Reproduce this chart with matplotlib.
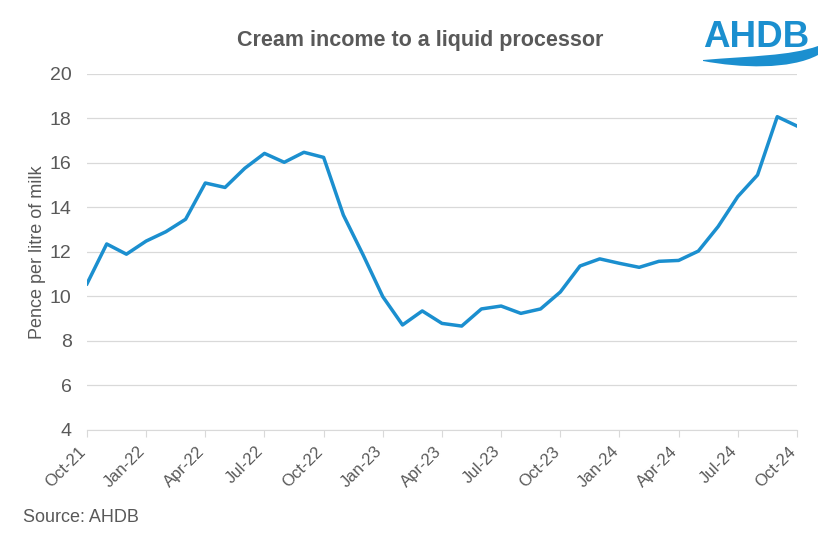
import matplotlib
matplotlib.use("Agg")
import matplotlib.pyplot as plt
import numpy as np
from matplotlib.path import Path
from matplotlib.patches import PathPatch

plt.rcParams['font.family'] = ['Liberation Sans', 'DejaVu Sans']

# monthly values, Oct-21 .. Oct-24 (pence per litre)
months = ['Oct-21', 'Nov-21', 'Dec-21', 'Jan-22', 'Feb-22', 'Mar-22', 'Apr-22', 'May-22',
          'Jun-22', 'Jul-22', 'Aug-22', 'Sep-22', 'Oct-22', 'Nov-22', 'Dec-22', 'Jan-23',
          'Feb-23', 'Mar-23', 'Apr-23', 'May-23', 'Jun-23', 'Jul-23', 'Aug-23', 'Sep-23',
          'Oct-23', 'Nov-23', 'Dec-23', 'Jan-24', 'Feb-24', 'Mar-24', 'Apr-24', 'May-24',
          'Jun-24', 'Jul-24', 'Aug-24', 'Sep-24', 'Oct-24']
values = [10.57, 12.36, 11.9, 12.49, 12.91, 13.47, 15.1, 14.9, 15.76, 16.43, 16.03, 16.48,
          16.25, 13.66, 11.87, 9.99, 8.72, 9.35, 8.79, 8.67, 9.44, 9.57, 9.24, 9.44,
          10.2, 11.37, 11.69, 11.49, 11.31, 11.58, 11.62, 12.04, 13.14, 14.49, 15.46,
          18.08, 17.66]
yticks = [4, 6, 8, 10, 12, 14, 16, 18, 20]

grey = '#595959'
blue = '#1b8fcf'

fig = plt.figure(figsize=(8.3, 5.36), dpi=100)
ax = fig.add_axes([0.1048, 0.1978, 0.8554, 0.6642])

x = np.arange(len(months))
ax.plot(x, values, color=blue, lw=2.5)

ax.set_xlim(0, len(months) - 1)
ax.set_ylim(4, 20)
ax.set_yticks(yticks)
ax.set_yticklabels([str(v) for v in yticks], fontsize=14, color=grey)
qt = x[::3]
ax.set_xticks(qt)
ax.set_xticklabels([months[i] for i in qt], rotation=45, ha='right', va='baseline',
                   rotation_mode='anchor', fontsize=12, color=grey)

ax.grid(axis='y', color='#d9d9d9', lw=0.9)
ax.set_axisbelow(True)
for s in ['top', 'right', 'left']:
    ax.spines[s].set_visible(False)
ax.spines['bottom'].set_color('#d9d9d9')
ax.tick_params(axis='y', length=0, pad=11)
ax.tick_params(axis='x', length=5, color='#d9d9d9', pad=11)

ax.set_ylabel('Pence per litre of milk', fontsize=13, color=grey, labelpad=3)

fig.text(0.506, 0.925, 'Cream income to a liquid processor', ha='center', va='center',
         fontsize=15.5, fontweight='bold', color=grey)
fig.text(0.028, 0.035, 'Source: AHDB', ha='left', va='center', fontsize=13, color=grey)

# logo
fig.text(0.911, 0.930, 'AHDB', ha='center', va='center', fontsize=26.5, fontweight='bold',
         color=blue)
W, H = 830.0, 536.0
px = [(703, 60), (750, 56), (790, 56), (818, 46), (818, 55), (790, 70), (740, 68),
      (703, 61), (703, 60)]
verts = [(a / W, 1 - b / H) for a, b in px]
codes = [Path.MOVETO, Path.CURVE4, Path.CURVE4, Path.CURVE4, Path.LINETO,
         Path.CURVE4, Path.CURVE4, Path.CURVE4, Path.CLOSEPOLY]
fig.patches.append(PathPatch(Path(verts, codes), transform=fig.transFigure,
                             facecolor=blue, edgecolor='none'))

fig.savefig('out.png', dpi=100)
